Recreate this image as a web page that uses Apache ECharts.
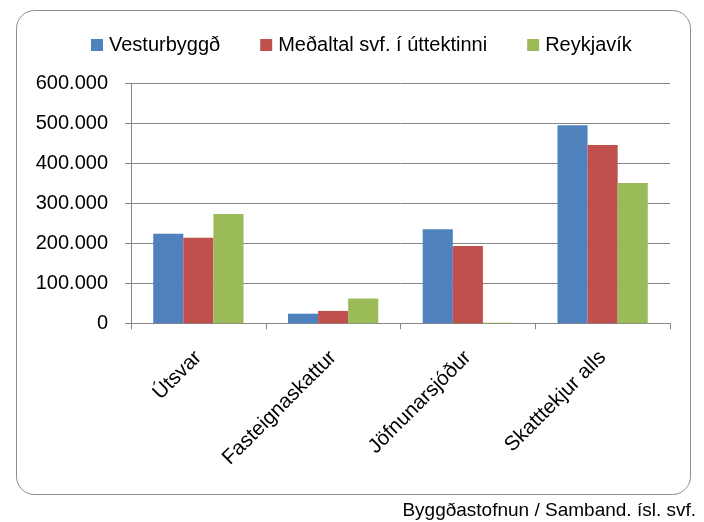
<!DOCTYPE html>
<html>
<head>
<meta charset="utf-8">
<script src="https://cdn.jsdelivr.net/npm/echarts@6/dist/echarts.min.js"></script>
<style>
    html, body { margin: 0; padding: 0; background: #fff; }
    #main { width: 704px; height: 522px; }
</style>
</head>
<body>
<div id="main"></div>
<script>
// gögn lesin af myndinni
var categories = ['Útsvar', 'Fasteignaskattur', 'Jöfnunarsjóður', 'Skatttekjur alls'];
var vesturbyggd = [224000, 24000, 235000, 495000];
var medaltal = [214000, 31000, 193000, 446000];
var reykjavik = [273000, 62000, 1500, 351000];
var seriesNames = ['Vesturbyggð', 'Meðaltal svf. í úttektinni', 'Reykjavík'];
var colors = ['#4F81BD', '#C0504D', '#9BBB59'];

var FONT = 'Liberation Sans';

// 600000 -> 600.000
function fmt(v) {
    return String(v).replace(/\B(?=(\d{3})+(?!\d))/g, '.');
}

var chart = echarts.init(document.getElementById('main'));

var option = {
    animation: false,
    color: colors,
    textStyle: { fontFamily: FONT },
    graphic: [
        {
            type: 'rect',
            shape: { x: 16.5, y: 10.5, width: 674, height: 484, r: 18 },
            style: { fill: 'none', stroke: '#8c8c8c', lineWidth: 1 },
            silent: true
        },
        {
            type: 'text',
            right: 8,
            top: 501,
            style: {
                text: 'Byggðastofnun / Samband. ísl. svf.',
                font: '19px ' + FONT,
                fill: '#000'
            }
        }
    ],
    legend: {
        top: 30,
        left: 86,
        itemWidth: 12,
        itemHeight: 12,
        itemGap: 40,
        icon: 'rect',
        textStyle: { fontSize: 20, color: '#000', fontFamily: FONT, padding: [0, 0, 0, 1] }
    },
    grid: {
        left: 131,
        right: 34,
        top: 83.3,
        bottom: 198.7
    },
    xAxis: {
        type: 'category',
        data: categories,
        axisLine: { lineStyle: { color: '#868686' } },
        axisTick: { show: true, length: 6, lineStyle: { color: '#868686' } },
        axisLabel: {
            rotate: 45,
            fontSize: 20.5,
            color: '#000',
            margin: 31,
            fontFamily: FONT
        }
    },
    yAxis: {
        type: 'value',
        min: 0,
        max: 600000,
        interval: 100000,
        axisLine: { show: true, lineStyle: { color: '#868686' } },
        axisTick: { show: true, length: 6, lineStyle: { color: '#868686' } },
        splitLine: { lineStyle: { color: '#868686' } },
        axisLabel: {
            fontSize: 20,
            color: '#000',
            margin: 23,
            fontFamily: FONT,
            formatter: fmt
        }
    },
    series: [
        { name: seriesNames[0], type: 'bar', data: vesturbyggd, barGap: '0%', barCategoryGap: '33%' },
        { name: seriesNames[1], type: 'bar', data: medaltal, barGap: '0%', barCategoryGap: '33%' },
        { name: seriesNames[2], type: 'bar', data: reykjavik, barGap: '0%', barCategoryGap: '33%' }
    ]
};

chart.setOption(option);
</script>
</body>
</html>
